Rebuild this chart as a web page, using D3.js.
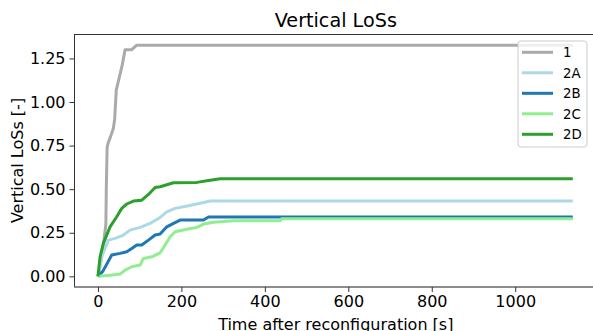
<style>
body {margin:0; background:#fff;}
#chart text {font-family:'DejaVu Sans',sans-serif; fill:#000;}
</style>
<script src='https://d3js.org/d3.v7.min.js'></script>
<svg id='chart'></svg><script>
var W=593,H=331;
var pL=75,pR=596.6,pT=34,pB=287;

// series: time [s] / vertical LoSs [-]
var names=['1','2A','2B','2C','2D'];
var colors=['#aaaaaa','#add8e6','#1f77b4','#90ee90','#2ca02c'];
var t1=[0,8,15,19,20,22,25,30,37,40,44,55,58,65,81,93,1138];
var v1=[0,.1,.22,.3,.5,.74,.77,.8,.85,.9,1.07,1.18,1.21,1.3,1.3,1.326,1.326];
var t2A=[0,10,25,41,61,77,101,125,149,165,185,217,245,269,1138];
var v2A=[0,.12,.208,.218,.237,.265,.281,.304,.338,.37,.39,.405,.419,.432,.432];
var t2B=[0,12,33,53,69,81,93,105,121,137,149,165,181,197,253,265,1138];
var v2B=[0,.03,.122,.132,.141,.16,.18,.18,.208,.237,.243,.284,.304,.323,.323,.34,.34];
var t2C=[0,30,53,65,81,101,109,129,149,161,173,185,213,237,253,277,325,437,440,1138];
var v2C=[0,.007,.013,.036,.055,.065,.103,.112,.135,.18,.227,.256,.27,.281,.3,.31,.319,.319,.33,.33];
var t2D=[0,5,13,29,45,57,69,85,105,121,137,149,181,237,261,293,1138];
var v2D=[0,.112,.189,.284,.342,.39,.415,.432,.437,.47,.51,.514,.537,.539,.548,.56,.56];
var xTicks=[0,200,400,600,800,1000];
var yTicks=[0,.25,.5,.75,1,1.25];

var series=[[t1,v1],[t2A,v2A],[t2B,v2B],[t2C,v2C],[t2D,v2D]].map((s,i)=>
  ({name:names[i],color:colors[i],pts:s[0].map((t,j)=>({t:t,v:s[1][j]}))}));

var xScale=d3.scaleLinear().domain([-55,1195]).range([pL,pR]),
    yScale=d3.scaleLinear().domain([-.061,1.39]).range([pB,pT]);

var svg=d3.select('#chart').attr('width',W).attr('height',H);

// spines
svg.append('line').attr('x1',pL).attr('x2',pR).attr('y1',pT+.5).attr('y2',pT+.5)
   .attr('stroke','#333').attr('stroke-width',1);
svg.append('line').attr('x1',pL-.5).attr('x2',pL-.5).attr('y1',pT).attr('y2',pB)
   .attr('stroke','#333').attr('stroke-width',1);
svg.append('line').attr('x1',pL-1).attr('x2',pR).attr('y1',pB).attr('y2',pB)
   .attr('stroke','#666').attr('stroke-width',1.3);

// axes
var xa=svg.append('g').attr('transform','translate(0,'+pB+')')
   .call(d3.axisBottom(xScale).tickValues(xTicks).tickSize(5).tickPadding(4).tickFormat(d3.format('d')));
var ya=svg.append('g').attr('transform','translate('+(pL-.5)+',0)')
   .call(d3.axisLeft(yScale).tickValues(yTicks).tickSize(5).tickPadding(4).tickFormat(d3.format('.2f')));
[xa,ya].forEach(a=>{a.select('.domain').remove();
  a.selectAll('.tick line').attr('stroke','#333');
  a.selectAll('text').style('font-size','16px').style('font-family','DejaVu Sans');});

// lines
var line=d3.line().x(d=>xScale(d.t)).y(d=>yScale(d.v));
svg.append('g').selectAll('path').data(series).enter().append('path')
   .attr('d',d=>line(d.pts)).attr('fill','none')
   .attr('stroke',d=>d.color).attr('stroke-width',3).attr('stroke-linejoin','round');

// title and labels
svg.append('text').attr('x',(pL+pR)/2).attr('y',27).attr('text-anchor','middle')
   .style('font-size','19.2px').text('Vertical LoSs');
svg.append('text').attr('x',(pL+pR)/2).attr('y',330).attr('text-anchor','middle')
   .style('font-size','16px').text('Time after reconfiguration [s]');
svg.append('text').attr('transform','translate(22.5,'+((pT+pB)/2)+') rotate(-90)')
   .attr('text-anchor','middle').style('font-size','16px').text('Vertical LoSs [-]');

// legend
var lg=svg.append('g').attr('transform','translate(518,41)');
lg.append('rect').attr('width',69).attr('height',106).attr('rx',3)
  .attr('fill','#fff').attr('fill-opacity',.8).attr('stroke','#ccc');
var items=lg.selectAll('g').data(series).enter().append('g')
  .attr('transform',(d,i)=>'translate(0,'+(11.3+i*20.5)+')');
items.append('line').attr('x1',4).attr('x2',35).attr('stroke',d=>d.color).attr('stroke-width',3);
items.append('text').attr('x',45).attr('y',4.8).style('font-size','13.3px').text(d=>d.name);
</script>
